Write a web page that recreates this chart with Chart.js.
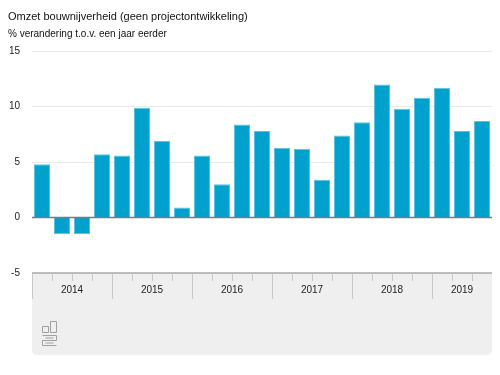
<!DOCTYPE html>
<html>
<head>
<meta charset="utf-8">
<script src="https://cdn.jsdelivr.net/npm/chart.js@4"></script>
<style>
  html, body { margin: 0; padding: 0; background: #fff; }
  #wrap { width: 500px; height: 375px; position: relative; }
</style>
</head>
<body>
<div id="wrap"><canvas id="chart" width="500" height="375"></canvas></div>
<script>
// kwartalen (categorieën)
const quarterLabels = [
  "2014 1e kw", "2014 2e kw", "2014 3e kw", "2014 4e kw",
  "2015 1e kw", "2015 2e kw", "2015 3e kw", "2015 4e kw",
  "2016 1e kw", "2016 2e kw", "2016 3e kw", "2016 4e kw",
  "2017 1e kw", "2017 2e kw", "2017 3e kw", "2017 4e kw",
  "2018 1e kw", "2018 2e kw", "2018 3e kw", "2018 4e kw",
  "2019 1e kw", "2019 2e kw", "2019 3e kw"
];
const yearLabels = ["2014", "2015", "2016", "2017", "2018", "2019"];
// % verandering t.o.v. een jaar eerder
const omzetValues = [
  4.8, -1.5, -1.5, 5.7,
  5.6, 9.9, 6.9, 0.9,
  5.6, 3.0, 8.4, 7.8,
  6.3, 6.2, 3.4, 7.4,
  8.6, 12.0, 9.8, 10.8,
  11.7, 7.8, 8.7
];
const yTicks = [-5, 0, 5, 10, 15];

const FONT = "'Liberation Sans', Arial, Helvetica, sans-serif";

// grijze balk onder de grafiek met jaartallen, streepjes en logo
const bottomPanel = {
  id: "bottomPanel",
  afterDatasetsDraw(chart) {
    const ctx = chart.ctx;
    const area = chart.chartArea;
    const x = chart.scales.x;
    const y = chart.scales.y;
    const panelBottom = 355;

    // nullijn over de balken heen
    const y0 = y.getPixelForValue(0);
    ctx.save();
    ctx.strokeStyle = "#7a7a7a";
    ctx.lineWidth = 1.5;
    ctx.beginPath();
    ctx.moveTo(area.left, y0);
    ctx.lineTo(area.right, y0);
    ctx.stroke();

    // paneel
    const top = area.bottom;
    const r = 5;
    ctx.fillStyle = "#efefef";
    ctx.beginPath();
    ctx.moveTo(area.left, top);
    ctx.lineTo(area.right, top);
    ctx.lineTo(area.right, panelBottom - r);
    ctx.quadraticCurveTo(area.right, panelBottom, area.right - r, panelBottom);
    ctx.lineTo(area.left + r, panelBottom);
    ctx.quadraticCurveTo(area.left, panelBottom, area.left, panelBottom - r);
    ctx.closePath();
    ctx.fill();

    ctx.strokeStyle = "#a8a8a8";
    ctx.lineWidth = 1.5;
    ctx.beginPath();
    ctx.moveTo(area.left, top);
    ctx.lineTo(area.right, top);
    ctx.stroke();

    // streepjes op kwartaalgrenzen
    const half = (x.getPixelForValue(1) - x.getPixelForValue(0)) / 2;
    ctx.strokeStyle = "#c8c8c8";
    ctx.lineWidth = 1;
    for (let i = 0; i < quarterLabels.length; i++) {
      const bx = Math.round(x.getPixelForValue(i) - half) + 0.5;
      const longTick = quarterLabels[i].indexOf("1e kw") > 0;
      ctx.beginPath();
      ctx.moveTo(bx, top);
      ctx.lineTo(bx, top + (longTick ? 26 : 8));
      ctx.stroke();
    }

    // jaartallen
    ctx.fillStyle = "#222";
    ctx.font = "10px " + FONT;
    ctx.textAlign = "center";
    ctx.textBaseline = "middle";
    yearLabels.forEach(year => {
      const idx = quarterLabels.map((q, i) => q.startsWith(year) ? i : -1).filter(i => i >= 0);
      const cx = (x.getPixelForValue(idx[0]) + x.getPixelForValue(idx[idx.length - 1])) / 2;
      ctx.fillText(year, cx, top + 17);
    });

    // cbs logo (vereenvoudigd)
    const lx = area.left + 10, ly = top + 48;
    ctx.strokeStyle = "#a0a0a0";
    ctx.lineWidth = 1;
    ctx.beginPath();
    ctx.rect(lx + 0.5, ly + 5.5, 6, 6);
    ctx.rect(lx + 8.5, ly + 0.5, 6, 11);
    ctx.moveTo(lx + 0.5, ly + 14.5); ctx.lineTo(lx + 14.5, ly + 14.5);
    ctx.lineTo(lx + 14.5, ly + 19.5); ctx.lineTo(lx + 0.5, ly + 19.5);
    ctx.lineTo(lx + 0.5, ly + 24.5); ctx.lineTo(lx + 14.5, ly + 24.5);
    ctx.moveTo(lx + 3.5, ly + 17); ctx.lineTo(lx + 11.5, ly + 17);
    ctx.moveTo(lx + 3.5, ly + 22); ctx.lineTo(lx + 11.5, ly + 22);
    ctx.stroke();
    ctx.restore();
  }
};

new Chart(document.getElementById("chart").getContext("2d"), {
  type: "bar",
  data: {
    labels: quarterLabels,
    datasets: [{
      label: "Omzet bouwnijverheid",
      data: omzetValues,
      backgroundColor: "#00a1cd",
      borderColor: "#5cc3df",
      borderWidth: 1,
      barPercentage: 0.8,
      categoryPercentage: 1.0
    }]
  },
  plugins: [bottomPanel],
  options: {
    responsive: false,
    animation: false,
    layout: { padding: { left: 8, right: 8, top: 10, bottom: 102 } },
    plugins: {
      legend: { display: false },
      tooltip: { enabled: false },
      title: {
        display: true,
        text: "Omzet bouwnijverheid (geen projectontwikkeling)",
        align: "start",
        color: "#111",
        font: { family: FONT, size: 11, weight: "normal" },
        padding: { top: 0, bottom: 5 }
      },
      subtitle: {
        display: true,
        text: "% verandering t.o.v. een jaar eerder",
        align: "start",
        color: "#111",
        font: { family: FONT, size: 10, weight: "normal" },
        padding: { top: 0, bottom: 11 }
      }
    },
    scales: {
      x: {
        display: false
      },
      y: {
        min: yTicks[0],
        max: yTicks[yTicks.length - 1],
        afterBuildTicks: scale => { scale.ticks = yTicks.map(v => ({ value: v })); },
        afterFit: scale => { scale.width = 24; },
        border: { display: false },
        grid: {
          color: ctx => ctx.tick && ctx.tick.value === 0 ? "rgba(0,0,0,0)" : "#e8e8e8",
          lineWidth: 1,
          drawTicks: false
        },
        ticks: {
          color: "#222",
          padding: 12,
          font: { family: FONT, size: 10 }
        }
      }
    }
  }
});
</script>
</body>
</html>
